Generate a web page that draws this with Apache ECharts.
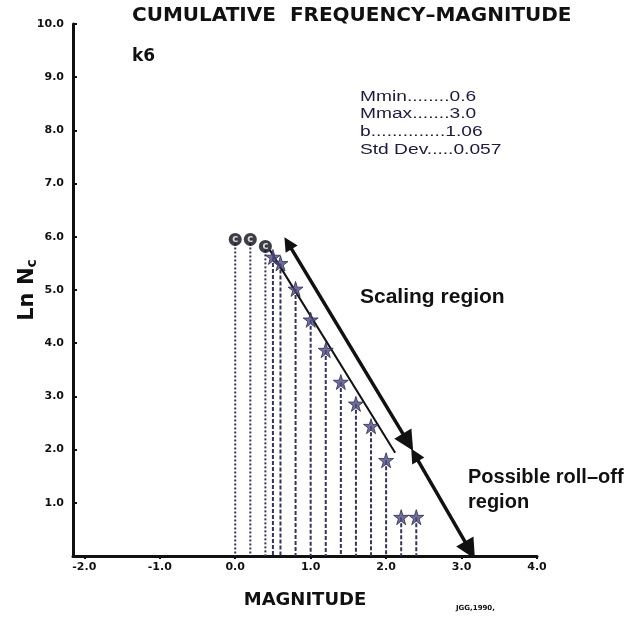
<!DOCTYPE html>
<html>
<head>
<meta charset="utf-8">
<script src="https://cdn.jsdelivr.net/npm/echarts@6/dist/echarts.min.js"></script>
<style>
  html, body { margin: 0; padding: 0; background: #fff; }
  #chart { width: 632px; height: 618px; }
</style>
</head>
<body>
<div id="chart"></div>
<script>
// Unbinned events (open circles) and binned magnitude classes (stars)
const circleMagnitude = [0.0, 0.2, 0.4];
const circleLnNc = [5.95, 5.95, 5.82];
const starMagnitude = [0.5, 0.6, 0.8, 1.0, 1.2, 1.4, 1.6, 1.8, 2.0, 2.2, 2.4];
const starLnNc = [5.62, 5.5, 5.02, 4.44, 3.87, 3.27, 2.86, 2.44, 1.8, 0.73, 0.73];

// Least-squares fit over the scaling region
const fitLine = [[0.46, 5.75], [2.12, 1.94]];
// Annotation arrows: scaling region and possible roll-off region
const scalingArrow = [[0.70, 5.88], [2.29, 2.14]];
const rollOffArrow = [[2.38, 1.90], [3.11, 0.11]];

const xTicks = [-2, -1, 0, 1, 2, 3, 4];
const statLines = ['Mmin........0.6', 'Mmax.......3.0', 'b..............1.06', 'Std Dev.....0.057'];

const circleData = circleMagnitude.map((m, i) => [m, circleLnNc[i]]);
const starData = starMagnitude.map((m, i) => [m, starLnNc[i]]);

const ink = '#111';
const navy = '#34345f';
const starPath = 'path://M50,0 L61,35 L98,35 L68,57 L79,92 L50,70 L21,92 L32,57 L2,35 L39,35 Z';
const arrowPath = 'path://M0,0 L10,30 L-10,30 Z';

function dropLine(dash) {
  return function (params, api) {
    const top = api.coord([api.value(0), api.value(1)]);
    const bot = api.coord([api.value(0), 0]);
    return {
      type: 'line',
      shape: { x1: top[0], y1: top[1], x2: bot[0], y2: bot[1] },
      style: { stroke: navy, lineWidth: 2, lineDash: dash }
    };
  };
}

const chart = echarts.init(document.getElementById('chart'), null, { renderer: 'canvas' });
chart.setOption({
  backgroundColor: '#fff',
  animation: false,
  grid: { left: 73, right: 95, top: 24, bottom: 62, containLabel: false },
  xAxis: {
    type: 'value',
    min: -2.15,
    max: 4,
    axisLine: { onZero: false, lineStyle: { color: ink, width: 3 } },
    axisTick: { show: true, customValues: xTicks, length: 3, lineStyle: { color: ink, width: 2 } },
    axisLabel: {
      customValues: xTicks,
      margin: 6,
      color: ink,
      fontFamily: 'DejaVu Sans',
      fontWeight: 'bold',
      fontSize: 11,
      formatter: v => v.toFixed(1)
    },
    splitLine: { show: false }
  },
  yAxis: {
    type: 'value',
    min: 0,
    max: 10,
    interval: 1,
    axisLine: { onZero: false, lineStyle: { color: ink, width: 3 } },
    axisTick: { inside: true, length: 4, lineStyle: { color: ink, width: 2 } },
    axisLabel: {
      margin: 9,
      color: ink,
      fontFamily: 'DejaVu Sans',
      fontWeight: 'bold',
      fontSize: 11,
      formatter: v => (v === 0 ? '' : v.toFixed(1))
    },
    splitLine: { show: false }
  },
  graphic: [
    {
      type: 'text', left: 132, top: 6,
      style: { text: 'CUMULATIVE  FREQUENCY\u2013MAGNITUDE', fill: ink, font: 'bold 20px "DejaVu Sans"' }
    },
    {
      type: 'text', left: 132, top: 48,
      style: { text: 'k6', fill: ink, font: 'bold 17px "DejaVu Sans"' }
    },
    {
      type: 'text', x: 360, y: 88, scaleX: 1.37,
      style: { text: statLines.join('\n'), fill: '#1c1c3e', font: '14px "Liberation Sans"', lineHeight: 17.7 }
    },
    {
      type: 'text', x: 360, y: 287,
      style: { text: 'Scaling region', fill: ink, font: 'bold 21px "Liberation Sans"' }
    },
    {
      type: 'text', x: 468, y: 465,
      style: { text: 'Possible roll\u2013off\nregion', fill: ink, font: 'bold 20px "Liberation Sans"', lineHeight: 25 }
    },
    {
      type: 'text', x: 28, y: 290, rotation: Math.PI / 2,
      style: {
        text: '{a|Ln N}{s|c}',
        align: 'center', verticalAlign: 'middle',
        rich: {
          a: { fill: ink, font: 'bold 21px "DejaVu Sans"' },
          s: { fill: ink, font: 'bold 14px "DejaVu Sans"', padding: [8, 0, 0, 0] }
        }
      }
    },
    {
      type: 'text', x: 305, y: 600,
      style: { text: 'MAGNITUDE', fill: ink, font: 'bold 18px "DejaVu Sans"', align: 'center', verticalAlign: 'middle' }
    },
    {
      type: 'text', x: 456, y: 605,
      style: { text: 'JGG,1990,', fill: ink, font: 'bold 7px "DejaVu Sans"' }
    }
  ],
  series: [
    {
      type: 'custom', renderItem: dropLine([2, 2]), data: circleData, z: 1,
      encode: { x: 0, y: 1 }
    },
    {
      type: 'custom', renderItem: dropLine([4, 2]), data: starData, z: 1,
      encode: { x: 0, y: 1 }
    },
    {
      type: 'lines', coordinateSystem: 'cartesian2d', z: 3,
      lineStyle: { color: ink, width: 2, opacity: 1 },
      data: [{ coords: fitLine }]
    },
    {
      type: 'lines', coordinateSystem: 'cartesian2d', z: 4,
      symbol: [arrowPath, arrowPath], symbolSize: [14, 20],
      lineStyle: { color: ink, width: 3.5, opacity: 1 },
      data: [{ coords: scalingArrow }, { coords: rollOffArrow }]
    },
    {
      type: 'scatter', data: starData, z: 5,
      symbol: starPath, symbolSize: 15,
      itemStyle: { color: '#4c4c80', borderColor: '#2a2a55', borderWidth: 1 }
    },
    {
      type: 'scatter', data: circleData, z: 5,
      symbol: 'circle', symbolSize: 13,
      itemStyle: { color: '#0d0d1a' },
      label: {
        show: true, position: 'inside', formatter: 'c',
        color: '#fff', fontFamily: 'DejaVu Sans', fontWeight: 'bold', fontSize: 10
      }
    }
  ]
});
</script>
</body>
</html>
